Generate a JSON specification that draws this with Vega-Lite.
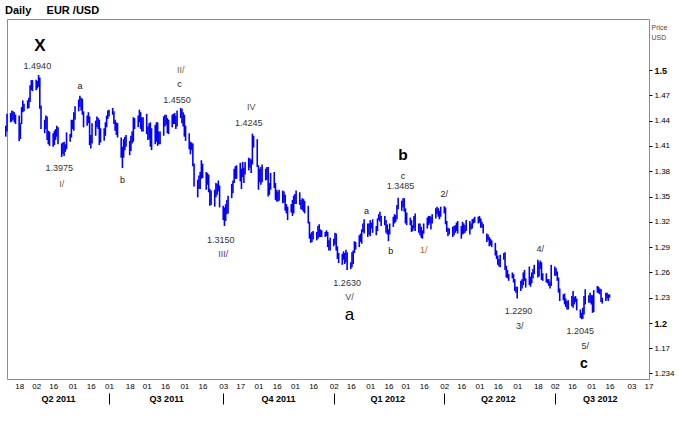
{
  "$schema": "https://vega.github.io/schema/vega-lite/v6.json",
  "width": 642,
  "height": 360,
  "autosize": "none",
  "padding": {"left": 7, "top": 19, "right": 30, "bottom": 42},
  "background": "white",
  "title": {
    "text": "Daily\u00a0\u00a0\u00a0\u00a0\u00a0EUR /USD",
    "anchor": "start",
    "font": "Liberation Sans",
    "fontSize": 11,
    "fontWeight": "bold",
    "color": "black",
    "offset": 3
  },
  "config": {
    "view": {"stroke": "#8c8c8c"},
    "font": "Liberation Sans",
    "text": {"font": "Liberation Sans"}
  },
  "datasets": {
    "bars": [
      {"date": "2011-04-07", "low": 1.421, "high": 1.434},
      {"date": "2011-04-08", "low": 1.427, "high": 1.448},
      {"date": "2011-04-11", "low": 1.438, "high": 1.449},
      {"date": "2011-04-12", "low": 1.439, "high": 1.452},
      {"date": "2011-04-13", "low": 1.441, "high": 1.451},
      {"date": "2011-04-14", "low": 1.438, "high": 1.450},
      {"date": "2011-04-15", "low": 1.436, "high": 1.447},
      {"date": "2011-04-18", "low": 1.4155, "high": 1.446},
      {"date": "2011-04-19", "low": 1.418, "high": 1.437},
      {"date": "2011-04-20", "low": 1.436, "high": 1.456},
      {"date": "2011-04-21", "low": 1.450, "high": 1.464},
      {"date": "2011-04-22", "low": 1.451, "high": 1.460},
      {"date": "2011-04-25", "low": 1.454, "high": 1.464},
      {"date": "2011-04-26", "low": 1.455, "high": 1.467},
      {"date": "2011-04-27", "low": 1.462, "high": 1.482},
      {"date": "2011-04-28", "low": 1.476, "high": 1.488},
      {"date": "2011-04-29", "low": 1.475, "high": 1.488},
      {"date": "2011-05-02", "low": 1.476, "high": 1.4885},
      {"date": "2011-05-03", "low": 1.478, "high": 1.487},
      {"date": "2011-05-04", "low": 1.480, "high": 1.494},
      {"date": "2011-05-05", "low": 1.454, "high": 1.491},
      {"date": "2011-05-06", "low": 1.430, "high": 1.458},
      {"date": "2011-05-09", "low": 1.425, "high": 1.441},
      {"date": "2011-05-10", "low": 1.430, "high": 1.446},
      {"date": "2011-05-11", "low": 1.417, "high": 1.445},
      {"date": "2011-05-12", "low": 1.412, "high": 1.428},
      {"date": "2011-05-13", "low": 1.410, "high": 1.427},
      {"date": "2011-05-16", "low": 1.409, "high": 1.425},
      {"date": "2011-05-17", "low": 1.411, "high": 1.428},
      {"date": "2011-05-18", "low": 1.417, "high": 1.430},
      {"date": "2011-05-19", "low": 1.421, "high": 1.434},
      {"date": "2011-05-20", "low": 1.412, "high": 1.432},
      {"date": "2011-05-23", "low": 1.3968, "high": 1.413},
      {"date": "2011-05-24", "low": 1.400, "high": 1.414},
      {"date": "2011-05-25", "low": 1.398, "high": 1.415},
      {"date": "2011-05-26", "low": 1.403, "high": 1.412},
      {"date": "2011-05-27", "low": 1.406, "high": 1.426},
      {"date": "2011-05-30", "low": 1.415, "high": 1.424},
      {"date": "2011-05-31", "low": 1.420, "high": 1.441},
      {"date": "2011-06-01", "low": 1.430, "high": 1.441},
      {"date": "2011-06-02", "low": 1.428, "high": 1.450},
      {"date": "2011-06-03", "low": 1.441, "high": 1.457},
      {"date": "2011-06-06", "low": 1.451, "high": 1.465},
      {"date": "2011-06-07", "low": 1.456, "high": 1.4695},
      {"date": "2011-06-08", "low": 1.452, "high": 1.467},
      {"date": "2011-06-09", "low": 1.447, "high": 1.466},
      {"date": "2011-06-10", "low": 1.432, "high": 1.451},
      {"date": "2011-06-13", "low": 1.434, "high": 1.446},
      {"date": "2011-06-14", "low": 1.437, "high": 1.450},
      {"date": "2011-06-15", "low": 1.411, "high": 1.445},
      {"date": "2011-06-16", "low": 1.407, "high": 1.423},
      {"date": "2011-06-17", "low": 1.413, "high": 1.437},
      {"date": "2011-06-20", "low": 1.422, "high": 1.440},
      {"date": "2011-06-21", "low": 1.432, "high": 1.445},
      {"date": "2011-06-22", "low": 1.430, "high": 1.443},
      {"date": "2011-06-23", "low": 1.411, "high": 1.441},
      {"date": "2011-06-24", "low": 1.414, "high": 1.431},
      {"date": "2011-06-27", "low": 1.416, "high": 1.431},
      {"date": "2011-06-28", "low": 1.422, "high": 1.438},
      {"date": "2011-06-29", "low": 1.432, "high": 1.446},
      {"date": "2011-06-30", "low": 1.442, "high": 1.452},
      {"date": "2011-07-01", "low": 1.445, "high": 1.453},
      {"date": "2011-07-04", "low": 1.447, "high": 1.455},
      {"date": "2011-07-05", "low": 1.436, "high": 1.451},
      {"date": "2011-07-06", "low": 1.428, "high": 1.441},
      {"date": "2011-07-07", "low": 1.423, "high": 1.438},
      {"date": "2011-07-08", "low": 1.420, "high": 1.437},
      {"date": "2011-07-11", "low": 1.396, "high": 1.420},
      {"date": "2011-07-12", "low": 1.3837, "high": 1.409},
      {"date": "2011-07-13", "low": 1.396, "high": 1.418},
      {"date": "2011-07-14", "low": 1.405, "high": 1.421},
      {"date": "2011-07-15", "low": 1.409, "high": 1.423},
      {"date": "2011-07-18", "low": 1.399, "high": 1.416},
      {"date": "2011-07-19", "low": 1.404, "high": 1.422},
      {"date": "2011-07-20", "low": 1.413, "high": 1.427},
      {"date": "2011-07-21", "low": 1.415, "high": 1.444},
      {"date": "2011-07-22", "low": 1.430, "high": 1.443},
      {"date": "2011-07-25", "low": 1.432, "high": 1.446},
      {"date": "2011-07-26", "low": 1.438, "high": 1.453},
      {"date": "2011-07-27", "low": 1.430, "high": 1.450},
      {"date": "2011-07-28", "low": 1.427, "high": 1.444},
      {"date": "2011-07-29", "low": 1.427, "high": 1.444},
      {"date": "2011-08-01", "low": 1.424, "high": 1.448},
      {"date": "2011-08-02", "low": 1.417, "high": 1.433},
      {"date": "2011-08-03", "low": 1.418, "high": 1.437},
      {"date": "2011-08-04", "low": 1.409, "high": 1.438},
      {"date": "2011-08-05", "low": 1.405, "high": 1.431},
      {"date": "2011-08-08", "low": 1.412, "high": 1.435},
      {"date": "2011-08-09", "low": 1.415, "high": 1.438},
      {"date": "2011-08-10", "low": 1.410, "high": 1.438},
      {"date": "2011-08-11", "low": 1.412, "high": 1.427},
      {"date": "2011-08-12", "low": 1.412, "high": 1.427},
      {"date": "2011-08-15", "low": 1.422, "high": 1.445},
      {"date": "2011-08-16", "low": 1.433, "high": 1.447},
      {"date": "2011-08-17", "low": 1.435, "high": 1.447},
      {"date": "2011-08-18", "low": 1.425, "high": 1.443},
      {"date": "2011-08-19", "low": 1.424, "high": 1.441},
      {"date": "2011-08-22", "low": 1.432, "high": 1.447},
      {"date": "2011-08-23", "low": 1.436, "high": 1.448},
      {"date": "2011-08-24", "low": 1.436, "high": 1.449},
      {"date": "2011-08-25", "low": 1.430, "high": 1.446},
      {"date": "2011-08-26", "low": 1.433, "high": 1.452},
      {"date": "2011-08-29", "low": 1.443, "high": 1.455},
      {"date": "2011-08-30", "low": 1.437, "high": 1.454},
      {"date": "2011-08-31", "low": 1.433, "high": 1.450},
      {"date": "2011-09-01", "low": 1.421, "high": 1.447},
      {"date": "2011-09-02", "low": 1.416, "high": 1.434},
      {"date": "2011-09-05", "low": 1.406, "high": 1.425},
      {"date": "2011-09-06", "low": 1.400, "high": 1.415},
      {"date": "2011-09-07", "low": 1.405, "high": 1.414},
      {"date": "2011-09-08", "low": 1.386, "high": 1.413},
      {"date": "2011-09-09", "low": 1.362, "high": 1.389},
      {"date": "2011-09-12", "low": 1.349, "high": 1.370},
      {"date": "2011-09-13", "low": 1.359, "high": 1.375},
      {"date": "2011-09-14", "low": 1.359, "high": 1.379},
      {"date": "2011-09-15", "low": 1.371, "high": 1.393},
      {"date": "2011-09-16", "low": 1.372, "high": 1.389},
      {"date": "2011-09-19", "low": 1.358, "high": 1.379},
      {"date": "2011-09-20", "low": 1.364, "high": 1.378},
      {"date": "2011-09-21", "low": 1.355, "high": 1.376},
      {"date": "2011-09-22", "low": 1.339, "high": 1.359},
      {"date": "2011-09-23", "low": 1.340, "high": 1.357},
      {"date": "2011-09-26", "low": 1.338, "high": 1.358},
      {"date": "2011-09-27", "low": 1.349, "high": 1.366},
      {"date": "2011-09-28", "low": 1.352, "high": 1.365},
      {"date": "2011-09-29", "low": 1.356, "high": 1.369},
      {"date": "2011-09-30", "low": 1.337, "high": 1.363},
      {"date": "2011-10-03", "low": 1.322, "high": 1.339},
      {"date": "2011-10-04", "low": 1.315, "high": 1.337},
      {"date": "2011-10-05", "low": 1.321, "high": 1.341},
      {"date": "2011-10-06", "low": 1.329, "high": 1.346},
      {"date": "2011-10-07", "low": 1.330, "high": 1.351},
      {"date": "2011-10-10", "low": 1.348, "high": 1.365},
      {"date": "2011-10-11", "low": 1.354, "high": 1.369},
      {"date": "2011-10-12", "low": 1.366, "high": 1.383},
      {"date": "2011-10-13", "low": 1.371, "high": 1.386},
      {"date": "2011-10-14", "low": 1.371, "high": 1.387},
      {"date": "2011-10-17", "low": 1.368, "high": 1.390},
      {"date": "2011-10-18", "low": 1.359, "high": 1.383},
      {"date": "2011-10-19", "low": 1.373, "high": 1.391},
      {"date": "2011-10-20", "low": 1.366, "high": 1.384},
      {"date": "2011-10-21", "low": 1.376, "high": 1.391},
      {"date": "2011-10-24", "low": 1.381, "high": 1.396},
      {"date": "2011-10-25", "low": 1.384, "high": 1.395},
      {"date": "2011-10-26", "low": 1.378, "high": 1.394},
      {"date": "2011-10-27", "low": 1.388, "high": 1.4245},
      {"date": "2011-10-28", "low": 1.408, "high": 1.422},
      {"date": "2011-10-31", "low": 1.385, "high": 1.418},
      {"date": "2011-11-01", "low": 1.358, "high": 1.387},
      {"date": "2011-11-02", "low": 1.367, "high": 1.383},
      {"date": "2011-11-03", "low": 1.364, "high": 1.385},
      {"date": "2011-11-04", "low": 1.367, "high": 1.388},
      {"date": "2011-11-07", "low": 1.369, "high": 1.383},
      {"date": "2011-11-08", "low": 1.370, "high": 1.385},
      {"date": "2011-11-09", "low": 1.350, "high": 1.385},
      {"date": "2011-11-10", "low": 1.352, "high": 1.366},
      {"date": "2011-11-11", "low": 1.358, "high": 1.378},
      {"date": "2011-11-14", "low": 1.360, "high": 1.379},
      {"date": "2011-11-15", "low": 1.346, "high": 1.366},
      {"date": "2011-11-16", "low": 1.344, "high": 1.358},
      {"date": "2011-11-17", "low": 1.344, "high": 1.356},
      {"date": "2011-11-18", "low": 1.345, "high": 1.358},
      {"date": "2011-11-21", "low": 1.342, "high": 1.357},
      {"date": "2011-11-22", "low": 1.343, "high": 1.356},
      {"date": "2011-11-23", "low": 1.333, "high": 1.352},
      {"date": "2011-11-24", "low": 1.330, "high": 1.341},
      {"date": "2011-11-25", "low": 1.322, "high": 1.338},
      {"date": "2011-11-28", "low": 1.331, "high": 1.341},
      {"date": "2011-11-29", "low": 1.327, "high": 1.346},
      {"date": "2011-11-30", "low": 1.330, "high": 1.351},
      {"date": "2011-12-01", "low": 1.341, "high": 1.353},
      {"date": "2011-12-02", "low": 1.341, "high": 1.357},
      {"date": "2011-12-05", "low": 1.340, "high": 1.355},
      {"date": "2011-12-06", "low": 1.335, "high": 1.346},
      {"date": "2011-12-07", "low": 1.334, "high": 1.348},
      {"date": "2011-12-08", "low": 1.332, "high": 1.347},
      {"date": "2011-12-09", "low": 1.330, "high": 1.345},
      {"date": "2011-12-12", "low": 1.318, "high": 1.339},
      {"date": "2011-12-13", "low": 1.300, "high": 1.320},
      {"date": "2011-12-14", "low": 1.295, "high": 1.306},
      {"date": "2011-12-15", "low": 1.296, "high": 1.308},
      {"date": "2011-12-16", "low": 1.299, "high": 1.309},
      {"date": "2011-12-19", "low": 1.298, "high": 1.308},
      {"date": "2011-12-20", "low": 1.300, "high": 1.315},
      {"date": "2011-12-21", "low": 1.302, "high": 1.317},
      {"date": "2011-12-22", "low": 1.302, "high": 1.311},
      {"date": "2011-12-23", "low": 1.302, "high": 1.310},
      {"date": "2011-12-26", "low": 1.302, "high": 1.308},
      {"date": "2011-12-27", "low": 1.303, "high": 1.310},
      {"date": "2011-12-28", "low": 1.290, "high": 1.308},
      {"date": "2011-12-29", "low": 1.286, "high": 1.298},
      {"date": "2011-12-30", "low": 1.286, "high": 1.301},
      {"date": "2012-01-02", "low": 1.291, "high": 1.300},
      {"date": "2012-01-03", "low": 1.293, "high": 1.307},
      {"date": "2012-01-04", "low": 1.286, "high": 1.306},
      {"date": "2012-01-05", "low": 1.276, "high": 1.291},
      {"date": "2012-01-06", "low": 1.271, "high": 1.283},
      {"date": "2012-01-09", "low": 1.269, "high": 1.282},
      {"date": "2012-01-10", "low": 1.275, "high": 1.285},
      {"date": "2012-01-11", "low": 1.270, "high": 1.283},
      {"date": "2012-01-12", "low": 1.272, "high": 1.287},
      {"date": "2012-01-13", "low": 1.263, "high": 1.284},
      {"date": "2012-01-16", "low": 1.264, "high": 1.272},
      {"date": "2012-01-17", "low": 1.266, "high": 1.284},
      {"date": "2012-01-18", "low": 1.270, "high": 1.286},
      {"date": "2012-01-19", "low": 1.283, "high": 1.297},
      {"date": "2012-01-20", "low": 1.287, "high": 1.296},
      {"date": "2012-01-23", "low": 1.290, "high": 1.304},
      {"date": "2012-01-24", "low": 1.296, "high": 1.306},
      {"date": "2012-01-25", "low": 1.294, "high": 1.311},
      {"date": "2012-01-26", "low": 1.308, "high": 1.318},
      {"date": "2012-01-27", "low": 1.306, "high": 1.323},
      {"date": "2012-01-30", "low": 1.302, "high": 1.318},
      {"date": "2012-01-31", "low": 1.305, "high": 1.318},
      {"date": "2012-02-01", "low": 1.303, "high": 1.322},
      {"date": "2012-02-02", "low": 1.312, "high": 1.319},
      {"date": "2012-02-03", "low": 1.307, "high": 1.323},
      {"date": "2012-02-06", "low": 1.304, "high": 1.315},
      {"date": "2012-02-07", "low": 1.309, "high": 1.324},
      {"date": "2012-02-08", "low": 1.322, "high": 1.329},
      {"date": "2012-02-09", "low": 1.320, "high": 1.332},
      {"date": "2012-02-10", "low": 1.315, "high": 1.327},
      {"date": "2012-02-13", "low": 1.316, "high": 1.327},
      {"date": "2012-02-14", "low": 1.307, "high": 1.322},
      {"date": "2012-02-15", "low": 1.305, "high": 1.317},
      {"date": "2012-02-16", "low": 1.297, "high": 1.311},
      {"date": "2012-02-17", "low": 1.305, "high": 1.318},
      {"date": "2012-02-20", "low": 1.314, "high": 1.326},
      {"date": "2012-02-21", "low": 1.318, "high": 1.329},
      {"date": "2012-02-22", "low": 1.320, "high": 1.328},
      {"date": "2012-02-23", "low": 1.323, "high": 1.340},
      {"date": "2012-02-24", "low": 1.335, "high": 1.3485},
      {"date": "2012-02-27", "low": 1.333, "high": 1.345},
      {"date": "2012-02-28", "low": 1.337, "high": 1.348},
      {"date": "2012-02-29", "low": 1.332, "high": 1.348},
      {"date": "2012-03-01", "low": 1.318, "high": 1.336},
      {"date": "2012-03-02", "low": 1.316, "high": 1.331},
      {"date": "2012-03-05", "low": 1.316, "high": 1.325},
      {"date": "2012-03-06", "low": 1.308, "high": 1.322},
      {"date": "2012-03-07", "low": 1.309, "high": 1.316},
      {"date": "2012-03-08", "low": 1.312, "high": 1.327},
      {"date": "2012-03-09", "low": 1.309, "high": 1.330},
      {"date": "2012-03-12", "low": 1.307, "high": 1.318},
      {"date": "2012-03-13", "low": 1.304, "high": 1.318},
      {"date": "2012-03-14", "low": 1.301, "high": 1.314},
      {"date": "2012-03-15", "low": 1.300, "high": 1.310},
      {"date": "2012-03-16", "low": 1.306, "high": 1.318},
      {"date": "2012-03-19", "low": 1.312, "high": 1.325},
      {"date": "2012-03-20", "low": 1.316, "high": 1.327},
      {"date": "2012-03-21", "low": 1.318, "high": 1.327},
      {"date": "2012-03-22", "low": 1.311, "high": 1.326},
      {"date": "2012-03-23", "low": 1.318, "high": 1.329},
      {"date": "2012-03-26", "low": 1.324, "high": 1.336},
      {"date": "2012-03-27", "low": 1.329, "high": 1.338},
      {"date": "2012-03-28", "low": 1.326, "high": 1.336},
      {"date": "2012-03-29", "low": 1.323, "high": 1.333},
      {"date": "2012-03-30", "low": 1.326, "high": 1.338},
      {"date": "2012-04-02", "low": 1.330, "high": 1.3385},
      {"date": "2012-04-03", "low": 1.317, "high": 1.337},
      {"date": "2012-04-04", "low": 1.308, "high": 1.321},
      {"date": "2012-04-05", "low": 1.303, "high": 1.313},
      {"date": "2012-04-06", "low": 1.305, "high": 1.312},
      {"date": "2012-04-09", "low": 1.302, "high": 1.314},
      {"date": "2012-04-10", "low": 1.304, "high": 1.315},
      {"date": "2012-04-11", "low": 1.307, "high": 1.316},
      {"date": "2012-04-12", "low": 1.309, "high": 1.319},
      {"date": "2012-04-13", "low": 1.306, "high": 1.321},
      {"date": "2012-04-16", "low": 1.300, "high": 1.315},
      {"date": "2012-04-17", "low": 1.305, "high": 1.320},
      {"date": "2012-04-18", "low": 1.306, "high": 1.318},
      {"date": "2012-04-19", "low": 1.307, "high": 1.316},
      {"date": "2012-04-20", "low": 1.309, "high": 1.322},
      {"date": "2012-04-23", "low": 1.305, "high": 1.321},
      {"date": "2012-04-24", "low": 1.311, "high": 1.318},
      {"date": "2012-04-25", "low": 1.312, "high": 1.323},
      {"date": "2012-04-26", "low": 1.318, "high": 1.324},
      {"date": "2012-04-27", "low": 1.319, "high": 1.326},
      {"date": "2012-04-30", "low": 1.318, "high": 1.326},
      {"date": "2012-05-01", "low": 1.319, "high": 1.327},
      {"date": "2012-05-02", "low": 1.313, "high": 1.324},
      {"date": "2012-05-03", "low": 1.313, "high": 1.320},
      {"date": "2012-05-04", "low": 1.306, "high": 1.317},
      {"date": "2012-05-07", "low": 1.296, "high": 1.306},
      {"date": "2012-05-08", "low": 1.298, "high": 1.305},
      {"date": "2012-05-09", "low": 1.291, "high": 1.302},
      {"date": "2012-05-10", "low": 1.292, "high": 1.300},
      {"date": "2012-05-11", "low": 1.290, "high": 1.298},
      {"date": "2012-05-14", "low": 1.280, "high": 1.295},
      {"date": "2012-05-15", "low": 1.276, "high": 1.286},
      {"date": "2012-05-16", "low": 1.269, "high": 1.280},
      {"date": "2012-05-17", "low": 1.267, "high": 1.276},
      {"date": "2012-05-18", "low": 1.266, "high": 1.281},
      {"date": "2012-05-21", "low": 1.275, "high": 1.283},
      {"date": "2012-05-22", "low": 1.263, "high": 1.284},
      {"date": "2012-05-23", "low": 1.254, "high": 1.268},
      {"date": "2012-05-24", "low": 1.253, "high": 1.263},
      {"date": "2012-05-25", "low": 1.250, "high": 1.258},
      {"date": "2012-05-28", "low": 1.253, "high": 1.260},
      {"date": "2012-05-29", "low": 1.248, "high": 1.258},
      {"date": "2012-05-30", "low": 1.238, "high": 1.252},
      {"date": "2012-05-31", "low": 1.236, "high": 1.243},
      {"date": "2012-06-01", "low": 1.229, "high": 1.243},
      {"date": "2012-06-04", "low": 1.238, "high": 1.250},
      {"date": "2012-06-05", "low": 1.241, "high": 1.252},
      {"date": "2012-06-06", "low": 1.245, "high": 1.260},
      {"date": "2012-06-07", "low": 1.250, "high": 1.263},
      {"date": "2012-06-08", "low": 1.242, "high": 1.253},
      {"date": "2012-06-11", "low": 1.245, "high": 1.267},
      {"date": "2012-06-12", "low": 1.243, "high": 1.255},
      {"date": "2012-06-13", "low": 1.247, "high": 1.260},
      {"date": "2012-06-14", "low": 1.253, "high": 1.264},
      {"date": "2012-06-15", "low": 1.258, "high": 1.269},
      {"date": "2012-06-18", "low": 1.254, "high": 1.275},
      {"date": "2012-06-19", "low": 1.255, "high": 1.272},
      {"date": "2012-06-20", "low": 1.264, "high": 1.274},
      {"date": "2012-06-21", "low": 1.251, "high": 1.272},
      {"date": "2012-06-22", "low": 1.250, "high": 1.259},
      {"date": "2012-06-25", "low": 1.248, "high": 1.259},
      {"date": "2012-06-26", "low": 1.247, "high": 1.252},
      {"date": "2012-06-27", "low": 1.244, "high": 1.252},
      {"date": "2012-06-28", "low": 1.241, "high": 1.249},
      {"date": "2012-06-29", "low": 1.244, "high": 1.269},
      {"date": "2012-07-02", "low": 1.256, "high": 1.267},
      {"date": "2012-07-03", "low": 1.256, "high": 1.265},
      {"date": "2012-07-04", "low": 1.250, "high": 1.261},
      {"date": "2012-07-05", "low": 1.236, "high": 1.254},
      {"date": "2012-07-06", "low": 1.226, "high": 1.241},
      {"date": "2012-07-09", "low": 1.227, "high": 1.234},
      {"date": "2012-07-10", "low": 1.222, "high": 1.235},
      {"date": "2012-07-11", "low": 1.219, "high": 1.229},
      {"date": "2012-07-12", "low": 1.216, "high": 1.226},
      {"date": "2012-07-13", "low": 1.216, "high": 1.227},
      {"date": "2012-07-16", "low": 1.220, "high": 1.232},
      {"date": "2012-07-17", "low": 1.218, "high": 1.238},
      {"date": "2012-07-18", "low": 1.222, "high": 1.231},
      {"date": "2012-07-19", "low": 1.225, "high": 1.232},
      {"date": "2012-07-20", "low": 1.215, "high": 1.229},
      {"date": "2012-07-23", "low": 1.206, "high": 1.216},
      {"date": "2012-07-24", "low": 1.2045, "high": 1.212},
      {"date": "2012-07-25", "low": 1.205, "high": 1.218},
      {"date": "2012-07-26", "low": 1.210, "high": 1.232},
      {"date": "2012-07-27", "low": 1.222, "high": 1.240},
      {"date": "2012-07-30", "low": 1.224, "high": 1.233},
      {"date": "2012-07-31", "low": 1.224, "high": 1.236},
      {"date": "2012-08-01", "low": 1.222, "high": 1.233},
      {"date": "2012-08-02", "low": 1.212, "high": 1.233},
      {"date": "2012-08-03", "low": 1.213, "high": 1.239},
      {"date": "2012-08-06", "low": 1.236, "high": 1.244},
      {"date": "2012-08-07", "low": 1.235, "high": 1.243},
      {"date": "2012-08-08", "low": 1.234, "high": 1.241},
      {"date": "2012-08-09", "low": 1.225, "high": 1.240},
      {"date": "2012-08-10", "low": 1.223, "high": 1.230},
      {"date": "2012-08-13", "low": 1.226, "high": 1.236},
      {"date": "2012-08-14", "low": 1.229, "high": 1.236},
      {"date": "2012-08-15", "low": 1.226, "high": 1.234},
      {"date": "2012-08-16", "low": 1.230, "high": 1.234}
    ],
    "prices": [
      {"date": "2011-05-03", "price": 1.5053, "label": "1.4940"},
      {"date": "2011-05-21", "price": 1.3838, "label": "1.3975"},
      {"date": "2011-08-26", "price": 1.4644, "label": "1.4550"},
      {"date": "2011-10-24", "price": 1.4366, "label": "1.4245"},
      {"date": "2011-10-01", "price": 1.2984, "label": "1.3150"},
      {"date": "2012-01-13", "price": 1.2474, "label": "1.2630"},
      {"date": "2012-02-26", "price": 1.3619, "label": "1.3485"},
      {"date": "2012-06-02", "price": 1.2148, "label": "1.2290"},
      {"date": "2012-07-23", "price": 1.1911, "label": "1.2045"}
    ],
    "waves": [
      {"date": "2011-05-23", "price": 1.3648, "label": "I/"},
      {"date": "2011-06-07", "price": 1.481, "label": "a"},
      {"date": "2011-07-12", "price": 1.3696, "label": "b"},
      {"date": "2011-08-29", "price": 1.5, "label": "II/"},
      {"date": "2011-08-28", "price": 1.4834, "label": "c"},
      {"date": "2011-10-03", "price": 1.2818, "label": "III/"},
      {"date": "2011-10-26", "price": 1.4561, "label": "IV"},
      {"date": "2012-01-15", "price": 1.2308, "label": "V/"},
      {"date": "2012-01-29", "price": 1.3328, "label": "a"},
      {"date": "2012-02-18", "price": 1.2854, "label": "b"},
      {"date": "2012-02-28", "price": 1.3743, "label": "c"},
      {"date": "2012-03-16", "price": 1.2866, "label": "1/"},
      {"date": "2012-04-02", "price": 1.3524, "label": "2/"},
      {"date": "2012-06-03", "price": 1.1964, "label": "3/"},
      {"date": "2012-06-20", "price": 1.2881, "label": "4/"},
      {"date": "2012-07-27", "price": 1.1724, "label": "5/"}
    ],
    "degrees": [
      {"date": "2011-05-05", "price": 1.5285, "label": "X"},
      {"date": "2012-02-28", "price": 1.3988, "label": "b"},
      {"date": "2012-01-15", "price": 1.2095, "label": "a"},
      {"date": "2012-07-26", "price": 1.1516, "label": "c"}
    ]
  },
  "layer": [
    {
      "data": {"name": "bars"},
      "mark": {"type": "rule", "color": "#0000ff", "strokeWidth": 1.6},
      "encoding": {
        "x": {
          "field": "date",
          "type": "temporal",
          "scale": {
            "type": "utc",
            "domain": [
              {"year": 2011, "month": 4, "date": 8, "utc": true},
              {"year": 2012, "month": 9, "date": 17, "hours": 12, "utc": true}
            ]
          },
          "axis": {
            "orient": "bottom",
            "title": null,
            "format": "%d",
            "values": [
              {"year": 2011, "month": 4, "date": 18, "utc": true},
              {"year": 2011, "month": 5, "date": 2, "utc": true},
              {"year": 2011, "month": 5, "date": 16, "utc": true},
              {"year": 2011, "month": 6, "date": 1, "utc": true},
              {"year": 2011, "month": 6, "date": 16, "utc": true},
              {"year": 2011, "month": 7, "date": 1, "utc": true},
              {"year": 2011, "month": 7, "date": 18, "utc": true},
              {"year": 2011, "month": 8, "date": 1, "utc": true},
              {"year": 2011, "month": 8, "date": 16, "utc": true},
              {"year": 2011, "month": 9, "date": 1, "utc": true},
              {"year": 2011, "month": 9, "date": 16, "utc": true},
              {"year": 2011, "month": 10, "date": 3, "utc": true},
              {"year": 2011, "month": 10, "date": 17, "utc": true},
              {"year": 2011, "month": 11, "date": 1, "utc": true},
              {"year": 2011, "month": 11, "date": 16, "utc": true},
              {"year": 2011, "month": 12, "date": 1, "utc": true},
              {"year": 2011, "month": 12, "date": 16, "utc": true},
              {"year": 2012, "month": 1, "date": 2, "utc": true},
              {"year": 2012, "month": 1, "date": 16, "utc": true},
              {"year": 2012, "month": 2, "date": 1, "utc": true},
              {"year": 2012, "month": 2, "date": 16, "utc": true},
              {"year": 2012, "month": 3, "date": 1, "utc": true},
              {"year": 2012, "month": 3, "date": 16, "utc": true},
              {"year": 2012, "month": 4, "date": 2, "utc": true},
              {"year": 2012, "month": 4, "date": 16, "utc": true},
              {"year": 2012, "month": 5, "date": 1, "utc": true},
              {"year": 2012, "month": 5, "date": 16, "utc": true},
              {"year": 2012, "month": 6, "date": 1, "utc": true},
              {"year": 2012, "month": 6, "date": 18, "utc": true},
              {"year": 2012, "month": 7, "date": 2, "utc": true},
              {"year": 2012, "month": 7, "date": 16, "utc": true},
              {"year": 2012, "month": 8, "date": 1, "utc": true},
              {"year": 2012, "month": 8, "date": 16, "utc": true},
              {"year": 2012, "month": 9, "date": 3, "utc": true},
              {"year": 2012, "month": 9, "date": 17, "utc": true}
            ],
            "grid": false,
            "domain": false,
            "ticks": false,
            "labelPadding": 3,
            "labelFontSize": 8,
            "labelColor": "black",
            "labelFlush": false,
            "labelOverlap": false
          }
        },
        "y": {
          "field": "low",
          "type": "quantitative",
          "scale": {"domain": [1.1336, 1.5605], "zero": false, "nice": false},
          "axis": {
            "orient": "right",
            "title": ["Price", "USD"],
            "titleAngle": 0,
            "titleAlign": "left",
            "titleBaseline": "top",
            "titleX": 2,
            "titleY": 4,
            "titleFontSize": 7,
            "titleFontWeight": "normal",
            "titleColor": "#6b4020",
            "titleLineHeight": 10,
            "values": [1.17, 1.2, 1.23, 1.26, 1.29, 1.32, 1.35, 1.38, 1.41, 1.44, 1.47, 1.5, 1.1406],
            "format": "~g",
            "labelExpr": "datum.value < 1.15 ? '1.234' : datum.label",
            "grid": false,
            "domain": false,
            "tickSize": 3,
            "tickColor": "black",
            "labelPadding": 2,
            "labelColor": "black",
            "labelFlush": false,
            "labelOverlap": false,
            "labelFontSize": {"condition": {"test": "datum.value == 1.5 || datum.value == 1.2", "value": 9}, "value": 8},
            "labelFontWeight": {"condition": {"test": "datum.value == 1.5 || datum.value == 1.2", "value": "bold"}, "value": "normal"}
          }
        },
        "y2": {"field": "high"}
      }
    },
    {
      "data": {"name": "prices"},
      "mark": {"type": "text", "fontSize": 9, "color": "#333333"},
      "encoding": {
        "x": {
          "field": "date",
          "type": "temporal",
          "scale": {
            "type": "utc",
            "domain": [
              {"year": 2011, "month": 4, "date": 8, "utc": true},
              {"year": 2012, "month": 9, "date": 17, "hours": 12, "utc": true}
            ]
          },
          "axis": {
            "orient": "bottom",
            "title": null,
            "values": [
              {"year": 2011, "month": 7, "date": 1, "utc": true},
              {"year": 2011, "month": 10, "date": 3, "utc": true},
              {"year": 2012, "month": 1, "date": 2, "utc": true},
              {"year": 2012, "month": 4, "date": 2, "utc": true},
              {"year": 2012, "month": 7, "date": 2, "utc": true}
            ],
            "offset": 14,
            "labels": false,
            "domain": false,
            "grid": false,
            "ticks": true,
            "tickSize": 11,
            "tickColor": "black",
            "tickWidth": 1
          }
        },
        "y": {
          "field": "price",
          "type": "quantitative",
          "scale": {"domain": [1.1336, 1.5605], "zero": false, "nice": false},
          "axis": null
        },
        "text": {"field": "label"}
      }
    },
    {
      "data": {"name": "waves"},
      "mark": {"type": "text", "fontSize": 9},
      "encoding": {
        "x": {
          "field": "date",
          "type": "temporal",
          "scale": {
            "type": "utc",
            "domain": [
              {"year": 2011, "month": 4, "date": 8, "utc": true},
              {"year": 2012, "month": 9, "date": 17, "hours": 12, "utc": true}
            ]
          },
          "axis": {
            "orient": "bottom",
            "title": null,
            "format": "Q%q %Y",
            "values": [
              {"year": 2011, "month": 5, "date": 20, "utc": true},
              {"year": 2011, "month": 8, "date": 17, "utc": true},
              {"year": 2011, "month": 11, "date": 17, "utc": true},
              {"year": 2012, "month": 2, "date": 15, "utc": true},
              {"year": 2012, "month": 5, "date": 16, "utc": true},
              {"year": 2012, "month": 8, "date": 8, "utc": true}
            ],
            "offset": 14,
            "ticks": false,
            "domain": false,
            "grid": false,
            "labelPadding": 1,
            "labelFontSize": 9,
            "labelFontWeight": "bold",
            "labelColor": "black",
            "labelFlush": false,
            "labelOverlap": false
          }
        },
        "y": {
          "field": "price",
          "type": "quantitative",
          "scale": {"domain": [1.1336, 1.5605], "zero": false, "nice": false},
          "axis": null
        },
        "text": {"field": "label"},
        "color": {
          "field": "label",
          "type": "nominal",
          "scale": {
            "domain": ["I/", "II/", "III/", "IV", "V/", "a", "b", "c", "1/", "2/", "3/", "4/", "5/"],
            "range": ["#7d6420", "#6a6a3a", "#5b2c83", "#5e4a22", "#3c4a3c", "#111111", "#111111", "#111111", "#b5601a", "#1a1a1a", "#333333", "#2a2a2a", "#333333"]
          },
          "legend": null
        }
      }
    },
    {
      "data": {"name": "degrees"},
      "transform": [{"filter": "datum.label != 'a'"}],
      "mark": {"type": "text", "fontWeight": "bold", "color": "black"},
      "encoding": {
        "x": {
          "field": "date",
          "type": "temporal",
          "scale": {
            "type": "utc",
            "domain": [
              {"year": 2011, "month": 4, "date": 8, "utc": true},
              {"year": 2012, "month": 9, "date": 17, "hours": 12, "utc": true}
            ]
          },
          "axis": null
        },
        "y": {
          "field": "price",
          "type": "quantitative",
          "scale": {"domain": [1.1336, 1.5605], "zero": false, "nice": false},
          "axis": null
        },
        "text": {"field": "label"},
        "size": {
          "field": "label",
          "type": "nominal",
          "scale": {"domain": ["X", "b", "c"], "range": [17, 14, 15]},
          "legend": null
        }
      }
    },
    {
      "data": {"name": "degrees"},
      "transform": [{"filter": "datum.label == 'a'"}],
      "mark": {"type": "text", "fontSize": 17, "color": "black"},
      "encoding": {
        "x": {
          "field": "date",
          "type": "temporal",
          "scale": {
            "type": "utc",
            "domain": [
              {"year": 2011, "month": 4, "date": 8, "utc": true},
              {"year": 2012, "month": 9, "date": 17, "hours": 12, "utc": true}
            ]
          },
          "axis": null
        },
        "y": {
          "field": "price",
          "type": "quantitative",
          "scale": {"domain": [1.1336, 1.5605], "zero": false, "nice": false},
          "axis": null
        },
        "text": {"field": "label"}
      }
    }
  ],
  "resolve": {"axis": {"x": "independent", "y": "independent"}}
}
